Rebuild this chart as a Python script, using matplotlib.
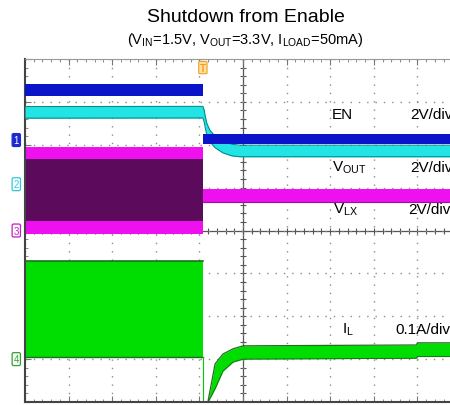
import matplotlib
matplotlib.use("Agg")
import matplotlib.pyplot as plt
import numpy as np

plt.rcParams['font.family'] = ['Liberation Sans', 'DejaVu Sans']
plt.rcParams['mathtext.fontset'] = 'custom'
plt.rcParams['mathtext.rm'] = 'Liberation Sans'

# time in divisions (10 div across screen), trigger at the shutdown edge
t_trig = 4.08

# channel ground offsets (div) and scales (units per div)
en_off, en_scale = 2.11, 2.0
vo_off, vo_scale = 1.08, 2.0
lx_off, lx_scale = 0.0, 2.0
il_off, il_scale = -3.0, 0.1

# EN (V)
en_t = [0, t_trig, t_trig, 10]
en_hi = [2.6, 2.6, 0.28, 0.28]
en_lo = [2.04, 2.04, -0.18, -0.18]

# VOUT (V), decays after shutdown
vo_t = [0, 4.08, 4.11, 4.13, 4.17, 4.24, 4.36, 4.54, 4.75, 4.93, 10]
vo_mid = [3.35, 3.36, 3.18, 2.94, 2.57, 2.25, 1.97, 1.73, 1.59, 1.55, 1.55]
vo_half = 0.27

# VLX (V): switching before, ~VIN after
lx_sw_hi, lx_sw_lo = 3.9, -0.16
lx_top_band = 3.33
lx_bot_band = 0.44
lx_after_hi, lx_after_lo = 1.93, 1.33

# IL (A)
il_sw_hi, il_sw_lo = 0.229, 0.005
il_t = [4.2, 4.36, 4.54, 4.77, 5.0, 8.98, 9.0, 10]
il_hi = [-0.097, -0.011, 0.012, 0.024, 0.031, 0.033, 0.038, 0.038]
il_lo = [-0.1, -0.069, -0.028, -0.007, 0.0, 0.002, 0.006, 0.006]


def to_div(v, off, scale):
    return off + np.asarray(v, dtype=float) / scale


fig = plt.figure(figsize=(4.5, 4.06), dpi=100)
ax = fig.add_axes([25 / 450, 3 / 406, 436 / 450, 343 / 406])
ax.set_xlim(0, 10)
ax.set_ylim(-4, 4)

# grid
ax.set_xticks(range(0, 11))
ax.set_yticks(range(-4, 5))
ax.set_xticks(np.arange(0, 10.01, 0.2), minor=True)
ax.set_yticks(np.arange(-4, 4.01, 0.2), minor=True)
ax.set_xticklabels([])
ax.set_yticklabels([])
ax.tick_params(which='both', direction='in', top=True, bottom=True, left=True,
               right=False, color='#777777')
ax.tick_params(which='major', length=4)
ax.tick_params(which='minor', length=2)
ax.grid(True, which='major', color='#8c8c8c', linestyle=(0, (1, 5)), linewidth=1.0)
ax.axhline(0, color='#555555', lw=0.9, zorder=1)
ax.axvline(5, color='#555555', lw=0.9, zorder=1)
mt = np.arange(0, 10.01, 0.2)
ax.plot(mt, np.zeros_like(mt), ls='none', marker='|', ms=5, color='#555555', mew=0.8, zorder=1)
mv = np.arange(-4, 4.01, 0.2)
ax.plot(np.full_like(mv, 5), mv, ls='none', marker='_', ms=5, color='#555555', mew=0.8, zorder=1)
for s in ['left', 'bottom']:
    ax.spines[s].set_color('#444444')
    ax.spines[s].set_linewidth(1.5)
ax.spines['top'].set_color('#999999')
ax.spines['right'].set_visible(False)

# VLX (magenta)
ax.fill_between([0, t_trig], to_div(lx_sw_lo, lx_off, lx_scale), to_div(lx_sw_hi, lx_off, lx_scale),
                color='#5c0b5c', lw=0, zorder=2)
ax.fill_between([0, t_trig], to_div(lx_top_band, lx_off, lx_scale), to_div(lx_sw_hi, lx_off, lx_scale),
                color='#ee10ee', lw=0, zorder=2)
ax.fill_between([0, t_trig], to_div(lx_sw_lo, lx_off, lx_scale), to_div(lx_bot_band, lx_off, lx_scale),
                color='#ee10ee', lw=0, zorder=2)
ax.fill_between([t_trig, 10], to_div(lx_after_lo, lx_off, lx_scale), to_div(lx_after_hi, lx_off, lx_scale),
                color='#ee10ee', lw=0, zorder=2)
ax.plot([t_trig, 10], to_div([lx_after_lo] * 2, lx_off, lx_scale), color='#9a109a', lw=0.8, zorder=2)

# IL (green)
ax.fill_between([0, t_trig], to_div(il_sw_lo, il_off, il_scale), to_div(il_sw_hi, il_off, il_scale),
                color='#00dd00', lw=0, zorder=2)
ax.plot([0, t_trig], to_div([il_sw_hi] * 2, il_off, il_scale), color='#1f6f1f', lw=1.2, zorder=2)
ax.plot([0, t_trig], to_div([il_sw_lo] * 2, il_off, il_scale), color='#1f6f1f', lw=1.0, zorder=2)
ax.plot([t_trig, t_trig], to_div([il_sw_lo, -0.1], il_off, il_scale), color='#00cc00', lw=0.8, zorder=2)
ax.fill_between(il_t, to_div(il_lo, il_off, il_scale), to_div(il_hi, il_off, il_scale),
                color='#00dd00', lw=0, zorder=2)
ax.plot(il_t, to_div(il_hi, il_off, il_scale), color='#1f6f1f', lw=0.9, zorder=2)
ax.plot(il_t, to_div(il_lo, il_off, il_scale), color='#1f6f1f', lw=0.7, zorder=2)

# VOUT (cyan)
vo_mid = np.array(vo_mid)
ax.fill_between(vo_t, to_div(vo_mid - vo_half, vo_off, vo_scale), to_div(vo_mid + vo_half, vo_off, vo_scale),
                color='#22e4e4', lw=0, zorder=3)
ax.plot(vo_t, to_div(vo_mid - vo_half, vo_off, vo_scale), color='#008f8f', lw=0.8, zorder=3)
ax.plot(vo_t, to_div(vo_mid + vo_half, vo_off, vo_scale), color='#008f8f', lw=0.8, zorder=3)

# EN (blue)
ax.fill_between(en_t, to_div(en_lo, en_off, en_scale), to_div(en_hi, en_off, en_scale),
                color='#0a14c8', lw=0, zorder=4)

# channel labels
lab = dict(fontsize=11, va='center', zorder=6)
ax.text(7.04, 2.72, 'EN', **lab)
ax.text(8.83, 2.72, '2V/div', **lab)
ax.text(7.04, 1.48, r'V$_\mathregular{OUT}$', **lab)
ax.text(8.83, 1.48, '2V/div', **lab)
ax.text(7.06, 0.50, r'V$_\mathregular{LX}$', **lab)
ax.text(8.78, 0.50, '2V/div', **lab)
ax.text(7.27, -2.30, r'I$_\mathregular{L}$', **lab)
ax.text(8.49, -2.30, '0.1A/div', **lab)

# ground markers
marks = [('1', en_off, '#1a2ad0'), ('2', vo_off, '#30c8d8'),
         ('3', lx_off, '#c020c0'), ('4', il_off, '#30a030')]
for txt, off, ec in marks:
    tc = 'white' if txt == '1' else ec
    face = ec if txt == '1' else 'white'
    ax.text(-0.2, off, txt, ha='center', va='center', fontsize=7, color=tc, clip_on=False,
            bbox=dict(boxstyle='round,pad=0.15', fc=face, ec=ec, lw=0.9), zorder=6)

# trigger marker
ax.text(t_trig, 3.8, 'T', ha='center', va='center', fontsize=7, color='#f0a020', fontweight='bold',
        bbox=dict(boxstyle='round,pad=0.12', fc='#fde0a0', ec='#f0a020', lw=0.8), zorder=6)

fig.text(246 / 450, 1 - 17 / 406, 'Shutdown from Enable', ha='center', va='center', fontsize=14)
fig.text(245 / 450, 1 - 40 / 406, r'(V$_\mathregular{IN}$=1.5V, V$_\mathregular{OUT}$=3.3V, I$_\mathregular{LOAD}$=50mA)',
         ha='center', va='center', fontsize=10.5)

fig.savefig('out.png', dpi=100)
